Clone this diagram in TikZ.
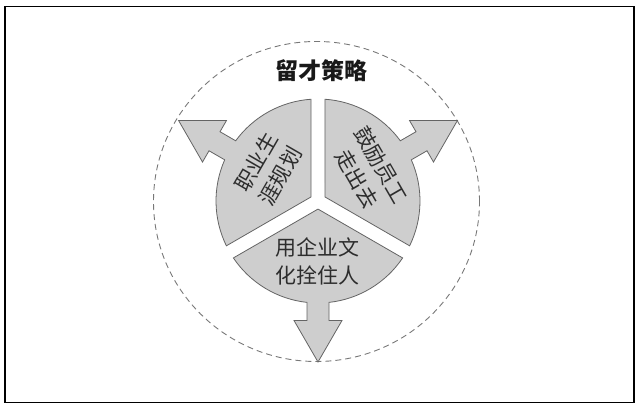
\documentclass[tikz,border=0pt]{standalone}
\usepackage{fontspec}
\newfontfamily\cjk{Noto Sans CJK SC}
\begin{document}
\begin{tikzpicture}[x=1pt,y=1pt,
  petal/.style={fill={rgb,255:red,206;green,206;blue,206}, draw={rgb,255:red,100;green,100;blue,100}, line width=0.8pt, line join=miter},
  lbl/.style={font=\cjk\fontsize{21}{28}\selectfont, align=center, text={rgb,255:red,45;green,45;blue,45}, inner sep=0pt},
  ttl/.style={font=\cjk\bfseries\fontsize{23}{28}\selectfont, text={rgb,255:red,25;green,25;blue,25}, inner sep=0pt}]
\useasboundingbox (0,0) rectangle (640,407);
\draw[line width=1.6pt] (5,4.5) rectangle (634,400.5);
\draw[dash pattern=on 6pt off 4pt, line width=0.9pt, color={rgb,255:red,120;green,120;blue,120}] (316.5,205.5) ellipse [x radius=163, y radius=160];
\node[ttl] (title) at (321.5,336) {留才策略};
\foreach \t in {150,30,270}{
  \draw[petal, shift={(318,206)}, rotate=\t] (8.08,0) -- (56.07:102)
    arc[start angle=56.07, end angle=6.19, radius=102]
    -- (119.5,11) -- (119.5,24) -- (161,0) -- (119.5,-24) -- (119.5,-11)
    -- (-6.19:102) arc[start angle=-6.19, end angle=-56.07, radius=102] -- cycle;
}
\node[lbl, rotate=60] (career) at (268,238) {职业生\\涯规划};
\node[lbl, rotate=-60] (out) at (369,235) {鼓励员工\\走出去};
\node[lbl] (culture) at (317,146) {用企业文\\化拴住人};
\end{tikzpicture}
\end{document}
